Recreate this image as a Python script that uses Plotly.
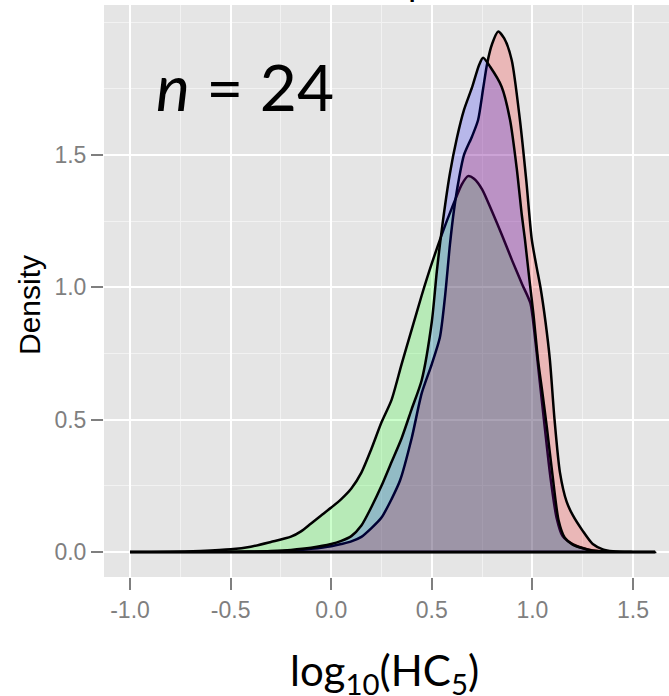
import plotly.graph_objects as go

# ---- data ----
green_x = [-1.0, -0.8, -0.65, -0.5, -0.4, -0.3, -0.2, -0.15, -0.1, -0.05, 0.0, 0.05, 0.1, 0.15,
           0.2, 0.25, 0.3, 0.35, 0.4, 0.45, 0.5, 0.55, 0.6, 0.65, 0.68, 0.71, 0.75, 0.8, 0.85,
           0.9, 0.95, 0.99, 1.01, 1.03, 1.06, 1.09, 1.12, 1.15, 1.2, 1.25, 1.3, 1.4, 1.5, 1.61]
green_y = [0.0, 0.001, 0.004, 0.01, 0.02, 0.038, 0.058, 0.078, 0.108, 0.138, 0.168, 0.2, 0.24, 0.3,
           0.39, 0.49, 0.575, 0.71, 0.84, 0.97, 1.09, 1.2, 1.3, 1.39, 1.42, 1.41, 1.37, 1.285, 1.195,
           1.1, 1.01, 0.94, 0.83, 0.69, 0.48, 0.28, 0.13, 0.06, 0.03, 0.015, 0.006, 0.001, 0.0, 0.0]

red_x = [-1.0, -0.5, -0.3, -0.2, -0.1, 0.0, 0.05, 0.1, 0.15, 0.2, 0.25, 0.3, 0.342, 0.4, 0.45,
         0.5, 0.54, 0.565, 0.59, 0.61, 0.635, 0.66, 0.7, 0.73, 0.755, 0.775, 0.8, 0.83, 0.86,
         0.897, 0.938, 0.97, 0.997, 1.02, 1.04, 1.065, 1.087, 1.11, 1.137, 1.17, 1.2, 1.25,
         1.3, 1.35, 1.4, 1.5, 1.61]
red_y = [0.0, 0.0005, 0.002, 0.005, 0.012, 0.022, 0.03, 0.04, 0.057, 0.09, 0.13, 0.2, 0.27, 0.43, 0.6,
         0.71, 0.81, 0.96, 1.16, 1.29, 1.41, 1.5, 1.57, 1.632, 1.75, 1.845, 1.92, 1.966, 1.94,
         1.859, 1.632, 1.4, 1.18, 1.08, 1.0, 0.87, 0.725, 0.5, 0.3, 0.19, 0.14, 0.08,
         0.03, 0.01, 0.003, 0.0005, 0.0]

blue_x = [-1.0, -0.6, -0.4, -0.3, -0.2, -0.1, 0.0, 0.05, 0.1, 0.15, 0.2, 0.25, 0.3, 0.35, 0.4,
          0.45, 0.5, 0.525, 0.55, 0.59, 0.625, 0.66, 0.7, 0.735, 0.755, 0.79, 0.847, 0.889,
          0.922, 0.947, 0.963, 0.985, 1.005, 1.028, 1.05, 1.072, 1.1, 1.13, 1.16, 1.2, 1.25,
          1.3, 1.4, 1.5, 1.61]
blue_y = [0.0, 0.0005, 0.002, 0.004, 0.008, 0.016, 0.03, 0.042, 0.06, 0.1, 0.17, 0.25, 0.34, 0.43, 0.54,
          0.65, 0.87, 1.06, 1.22, 1.43, 1.565, 1.67, 1.755, 1.84, 1.867, 1.833, 1.758, 1.632,
          1.45, 1.275, 1.18, 1.03, 0.9, 0.725, 0.6, 0.47, 0.29, 0.12, 0.055, 0.028, 0.014,
          0.005, 0.001, 0.0, 0.0]

x_tick_vals = [-1.0, -0.5, 0.0, 0.5, 1.0, 1.5]
x_tick_text = ["-1.0", "-0.5", "0.0", "0.5", "1.0", "1.5"]
x_minor_vals = [-0.75, -0.25, 0.25, 0.75, 1.25]
y_tick_vals = [0.0, 0.5, 1.0, 1.5]
y_tick_text = ["0.0", "0.5", "1.0", "1.5"]
y_minor_vals = [0.25, 0.75, 1.25, 1.75, 2.0]

series = [
    (green_x, green_y, "rgba(0,255,0,0.2)"),
    (red_x, red_y, "rgba(255,0,0,0.2)"),
    (blue_x, blue_y, "rgba(0,0,255,0.2)"),
]

fig = go.Figure()
for xs, ys, fc in series:
    px_ = list(xs) + [xs[0]]
    py_ = list(ys) + [0.0]
    fig.add_trace(go.Scatter(
        x=px_, y=py_, mode="lines", fill="toself", fillcolor=fc,
        line=dict(color="black", width=2.5, shape="spline", smoothing=0.7),
        hoverinfo="skip", showlegend=False))

W, H = 669, 696
L, R, T, B = 104, 0, 5, 119
pw, ph = W - L - R, H - T - B

def pxx(p):
    return (p - L) / pw

def pxy(p):
    return (H - B - p) / ph

tickfont = dict(family="Liberation Sans, Arial, sans-serif", size=23, color="#7F7F7F")

fig.update_layout(
    width=W, height=H,
    margin=dict(l=L, r=R, t=T, b=B, pad=0),
    paper_bgcolor="white", plot_bgcolor="#E5E5E5",
    showlegend=False,
    xaxis=dict(range=[-1.1292, 1.6789], tickvals=x_tick_vals, ticktext=x_tick_text,
               showgrid=True, gridcolor="white", gridwidth=2, zeroline=False,
               ticks="outside", ticklen=12, tickwidth=2, tickcolor="#7F7F7F",
               tickfont=tickfont, showline=False,
               minor=dict(tickvals=x_minor_vals, showgrid=True, gridcolor="#F2F2F2", gridwidth=1)),
    yaxis=dict(range=[-0.0944, 2.0665], tickvals=y_tick_vals, ticktext=y_tick_text,
               showgrid=True, gridcolor="white", gridwidth=2, zeroline=False,
               ticks="outside", ticklen=12, tickwidth=2, tickcolor="#7F7F7F",
               tickfont=tickfont, showline=False,
               minor=dict(tickvals=y_minor_vals, showgrid=True, gridcolor="#F2F2F2", gridwidth=1)),
)

fig.add_annotation(text="<i>n</i> = 24", xref="paper", yref="paper",
                   x=pxx(154), y=pxy(127), xanchor="left", yanchor="bottom", showarrow=False,
                   font=dict(family="Lato, sans-serif", size=64, color="black"))
fig.add_annotation(text="log<sub>10</sub>(HC<sub>5</sub>)", xref="paper", yref="paper",
                   x=pxx(384), y=pxy(643), xanchor="center", yanchor="top", showarrow=False,
                   font=dict(family="Lato, sans-serif", size=42, color="black"))
fig.add_annotation(text="Density", xref="paper", yref="paper", textangle=-90,
                   x=pxx(29), y=pxy(305), xanchor="center", yanchor="middle", showarrow=False,
                   font=dict(family="Liberation Sans, Arial, sans-serif", size=30, color="black"))
fig.add_annotation(text="p", xref="paper", yref="paper",
                   x=pxx(406), y=pxy(6), xanchor="left", yanchor="bottom", showarrow=False,
                   font=dict(family="Lato, sans-serif", size=36, color="black"))

fig.write_html("out.html", config={"displayModeBar": False},
               post_script="document.body.style.margin='0';document.body.style.overflow='hidden';")
